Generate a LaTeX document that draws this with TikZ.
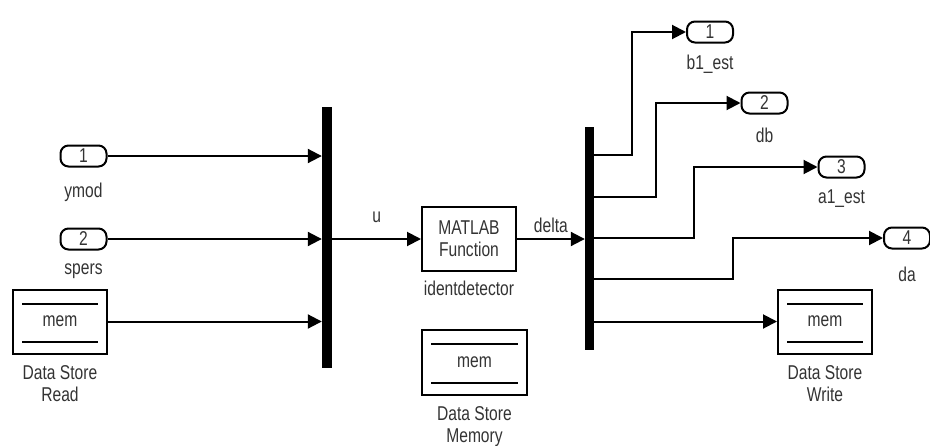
\documentclass[tikz,border=0pt]{standalone}
\usepackage{fontspec}
\setmainfont{Liberation Sans}[FakeStretch=0.78]
\usetikzlibrary{arrows.meta,positioning}

\begin{document}
\begin{tikzpicture}[x=1pt,y=-1pt,
    font=\fontsize{20}{22}\selectfont,
    sig/.style={-{Triangle[length=14pt,width=14pt]},line width=2pt},
    port/.style={draw,line width=2pt,rounded corners=8pt,minimum width=46pt,
      minimum height=21pt,inner sep=0pt,text=black!80},
    blk/.style={draw,line width=2pt,minimum width=94pt,minimum height=64pt,
      align=center,text=black!80},
    store/.style={blk,path picture={
        \draw[line width=2pt]
          ([xshift=9pt,yshift=-14pt]path picture bounding box.north west) --
          ([xshift=-9pt,yshift=-14pt]path picture bounding box.north east);
        \draw[line width=2pt]
          ([xshift=9pt,yshift=12pt]path picture bounding box.south west) --
          ([xshift=-9pt,yshift=12pt]path picture bounding box.south east);}},
    bar/.style={fill=black,inner sep=0pt},
    lbl/.style={align=center,text=black!80}]
  \useasboundingbox (0,0) rectangle (930,445);

  % inputs
  \node[port,label={[lbl,label distance=12pt]below:ymod}] (in1) at (83.5,156) {1};
  \node[port,label={[lbl,label distance=10pt]below:spers}] (in2) at (83.5,239) {2};
  \node[store,label={[lbl,label distance=7pt]below:Data Store\\Read}] (dsr) at (60,321.5) {mem};

  % mux / demux bars
  \node[bar,minimum width=10pt,minimum height=261pt] (mux) at (327,237.5) {};
  \node[bar,minimum width=9pt,minimum height=223pt] (demux) at (589.5,238.5) {};

  \node[blk,label={[lbl,label distance=5pt]below:identdetector}] (fcn) at (469,239) {MATLAB\\Function};
  \node[store,minimum width=105pt,minimum height=65pt,
    label={[lbl,label distance=7pt]below:Data Store\\Memory}] (dsm) at (474.5,362.5) {mem};

  % outputs
  \node[port,label={[lbl,label distance=8pt]below:b1\_est}] (out1) at (710,32) {1};
  \node[port,label={[lbl,label distance=10pt]below:db}] (out2) at (764.5,103) {2};
  \node[port,label={[lbl,label distance=8pt]below:a1\_est}] (out3) at (841.5,167) {3};
  \node[port,label={[lbl,label distance=14pt]below:da}] (out4) at (907,238) {4};
  \node[store,label={[lbl,label distance=7pt]below:Data Store\\Write}] (dsw) at (825,321.5) {mem};

  \coordinate (d1) at (demux.east |- 0,155);
  \coordinate (d2) at (demux.east |- 0,197);
  \coordinate (d3) at (demux.east |- 0,238);
  \coordinate (d4) at (demux.east |- 0,279);

  \draw[sig] (in1) -- (in1 -| mux.west);
  \draw[sig] (in2) -- (in2 -| mux.west);
  \draw[sig] (dsr) -- (dsr -| mux.west);
  \draw[sig] (mux.east |- fcn) -- node[lbl,above=12pt]{u} (fcn.west);
  \draw[sig] (fcn.east) -- node[lbl,above=2pt]{delta} (fcn -| demux.west);

  \draw[sig] (d1) -- ++(38,0) |- (out1.west);
  \draw[sig] (d2) -- ++(62,0) |- (out2.west);
  \draw[sig] (d3) -- ++(100,0) |- (out3.west);
  \draw[sig] (d4) -- ++(139,0) |- (out4.west);
  \draw[sig] (demux.east |- dsw) -- (dsw.west);
\end{tikzpicture}
\end{document}
